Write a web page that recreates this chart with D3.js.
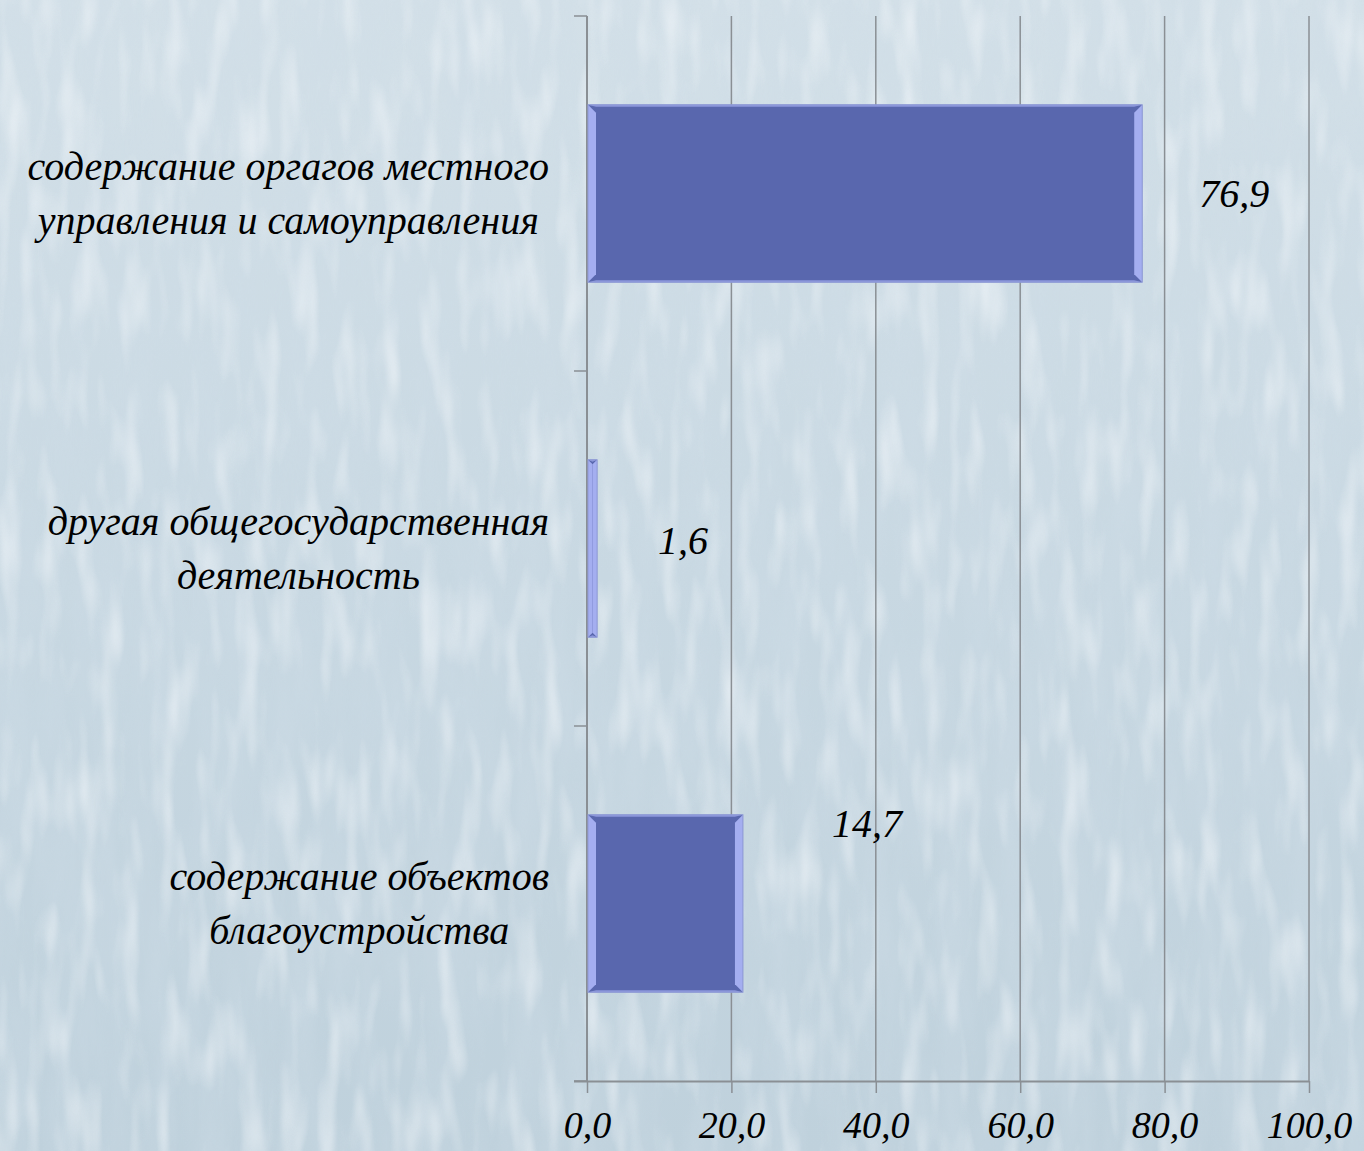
<!DOCTYPE html>
<html><head><meta charset="utf-8">
<script src="https://cdn.jsdelivr.net/npm/d3@7"></script>
<style>html,body{margin:0;padding:0;overflow:hidden;background:#c9d8e2;}</style>
</head><body>
<svg id="chart" width="1364" height="1151"></svg>
<script>
// ---- data ----
const categories = [
  ["содержание оргагов местного", "управления и самоуправления"],
  ["другая общегосударственная", "деятельность"],
  ["содержание объектов", "благоустройства"]
];
const barValues = [76.9, 1.4, 21.6];          // bar lengths as drawn
const valueLabels = ["76,9", "1,6", "14,7"];  // printed data labels
const tickValues = [0, 20, 40, 60, 80, 100];
const tickLabels = ["0,0", "20,0", "40,0", "60,0", "80,0", "100,0"];

// ---- layout ----
const W = 1364, H = 1151;
const svg = d3.select("#chart");
const x = d3.scaleLinear().domain([0, 100]).range([587, 1309]);
const y = d3.scaleBand().domain(d3.range(categories.length)).range([16, 1081]).paddingInner(0.5).paddingOuter(0.25);
const FONT = "'Liberation Serif', 'DejaVu Serif', serif";

// background texture
const defs = svg.append("defs");
const f = defs.append("filter").attr("id", "tex").attr("x", 0).attr("y", 0).attr("width", "100%").attr("height", "100%");
f.append("feTurbulence").attr("type", "fractalNoise").attr("baseFrequency", "0.035 0.006").attr("numOctaves", 3).attr("seed", 7).attr("result", "n");
f.append("feColorMatrix").attr("in", "n").attr("type", "matrix")
  .attr("values", "0 0 0 0 0.62  0 0 0 0 0.72  0 0 0 0 0.80  1.3 0 0 0 -0.35").attr("result", "c");
const f2 = defs.append("filter").attr("id", "tex2").attr("x", 0).attr("y", 0).attr("width", "100%").attr("height", "100%");
f2.append("feTurbulence").attr("type", "fractalNoise").attr("baseFrequency", "0.05 0.012").attr("numOctaves", 2).attr("seed", 3).attr("result", "n");
f2.append("feColorMatrix").attr("in", "n").attr("type", "matrix")
  .attr("values", "0 0 0 0 0.95  0 0 0 0 0.97  0 0 0 0 0.99  1.6 0 0 0 -0.75");
const bg = defs.append("linearGradient").attr("id", "bgGrad").attr("x1", 0).attr("y1", 0).attr("x2", 0).attr("y2", 1);
bg.append("stop").attr("offset", 0).attr("stop-color", "#d3e0e8");
bg.append("stop").attr("offset", 0.5).attr("stop-color", "#c8d8e2");
bg.append("stop").attr("offset", 1).attr("stop-color", "#bfd1dc");
svg.append("rect").attr("width", W).attr("height", H).attr("fill", "url(#bgGrad)");
svg.append("rect").attr("width", W).attr("height", H).attr("filter", "url(#tex)").attr("opacity", 0.55);
svg.append("rect").attr("width", W).attr("height", H).attr("filter", "url(#tex2)").attr("opacity", 0.7);

// gridlines
const gridColor = "#8a8f94";
svg.append("g").selectAll("line").data(tickValues.slice(1)).join("line")
  .attr("x1", d => x(d)).attr("x2", d => x(d)).attr("y1", 16).attr("y2", 1081)
  .attr("stroke", gridColor).attr("stroke-width", 1.5);

// x axis
const xAxis = svg.append("g").attr("transform", "translate(0,1081)")
  .call(d3.axisBottom(x).tickValues(tickValues).tickFormat((d, i) => tickLabels[i]).tickSizeInner(12).tickSizeOuter(0).tickPadding(14));
xAxis.select(".domain").attr("stroke", gridColor).attr("stroke-width", 2).attr("d", `M574,0.5H${x(100)}`);
xAxis.selectAll(".tick line").attr("stroke", gridColor).attr("stroke-width", 1.5);
xAxis.selectAll(".tick text").attr("font-family", FONT).attr("font-style", "italic")
  .attr("font-size", 38).attr("fill", "#000").attr("y", 57).attr("dy", 0);

// y axis
const yTicks = [16, 371, 726, 1081];
svg.append("line").attr("x1", x(0)).attr("x2", x(0)).attr("y1", 16).attr("y2", 1081).attr("stroke", gridColor).attr("stroke-width", 2);
svg.append("g").selectAll("line").data(yTicks).join("line")
  .attr("x1", 574).attr("x2", x(0)).attr("y1", d => d).attr("y2", d => d)
  .attr("stroke", gridColor).attr("stroke-width", 1.5);

// bars with bevel
const barFill = "#5967ae", bevel = "#a4aef0", edge = "#8c97db";
const bars = svg.append("g").selectAll("g").data(barValues).join("g");
bars.each(function (v, i) {
  const g = d3.select(this);
  const x0 = x(0) + 1, x1 = x(v), y0 = y(i), y1 = y(i) + y.bandwidth();
  const b = Math.min(8, (x1 - x0) / 2);
  g.append("rect").attr("x", x0).attr("y", y0).attr("width", x1 - x0).attr("height", y1 - y0).attr("fill", barFill);
  g.append("polygon").attr("points", [[x0, y0], [x0 + b, y0 + b], [x0 + b, y1 - b], [x0, y1]].join(" ")).attr("fill", bevel);
  g.append("polygon").attr("points", [[x1, y0], [x1 - b, y0 + b], [x1 - b, y1 - b], [x1, y1]].join(" ")).attr("fill", bevel);
  g.append("polygon").attr("points", [[x0, y0], [x1, y0], [x1 - b, y0 + 2], [x0 + b, y0 + 2]].join(" ")).attr("fill", edge);
  g.append("polygon").attr("points", [[x0, y1], [x1, y1], [x1 - b, y1 - 2], [x0 + b, y1 - 2]].join(" ")).attr("fill", edge);
  g.append("rect").attr("x", x0).attr("y", y0).attr("width", x1 - x0).attr("height", y1 - y0)
    .attr("fill", "none").attr("stroke", "#8f9ad6").attr("stroke-width", 1);
});

// data labels (placed like the original's manually offset labels)
const labelDx = [92, 86, 124], labelDy = [0, -8, -80];
svg.append("g").selectAll("text").data(barValues).join("text")
  .attr("x", (v, i) => x(v) + labelDx[i])
  .attr("y", (v, i) => y(i) + y.bandwidth() / 2 + labelDy[i])
  .attr("text-anchor", "middle").attr("dominant-baseline", "central")
  .attr("font-family", FONT).attr("font-style", "italic").attr("font-size", 40).attr("fill", "#000")
  .text((v, i) => valueLabels[i]);

// category labels: centered block, right edge at 549
const catG = svg.append("g");
categories.forEach((lines, i) => {
  const cy = y(i) + y.bandwidth() / 2;
  const lh = 54;
  const t = catG.append("text").attr("font-family", FONT).attr("font-style", "italic")
    .attr("font-size", 40).attr("fill", "#000").attr("text-anchor", "middle");
  lines.forEach((ln, k) => {
    t.append("tspan").attr("x", 0).attr("y", cy + (k - (lines.length - 1) / 2) * lh).attr("dominant-baseline", "central").text(ln);
  });
  let maxW = 0;
  t.selectAll("tspan").each(function () { maxW = Math.max(maxW, this.getComputedTextLength()); });
  t.attr("transform", `translate(${549 - maxW / 2},0)`);
});
</script>
</body></html>
